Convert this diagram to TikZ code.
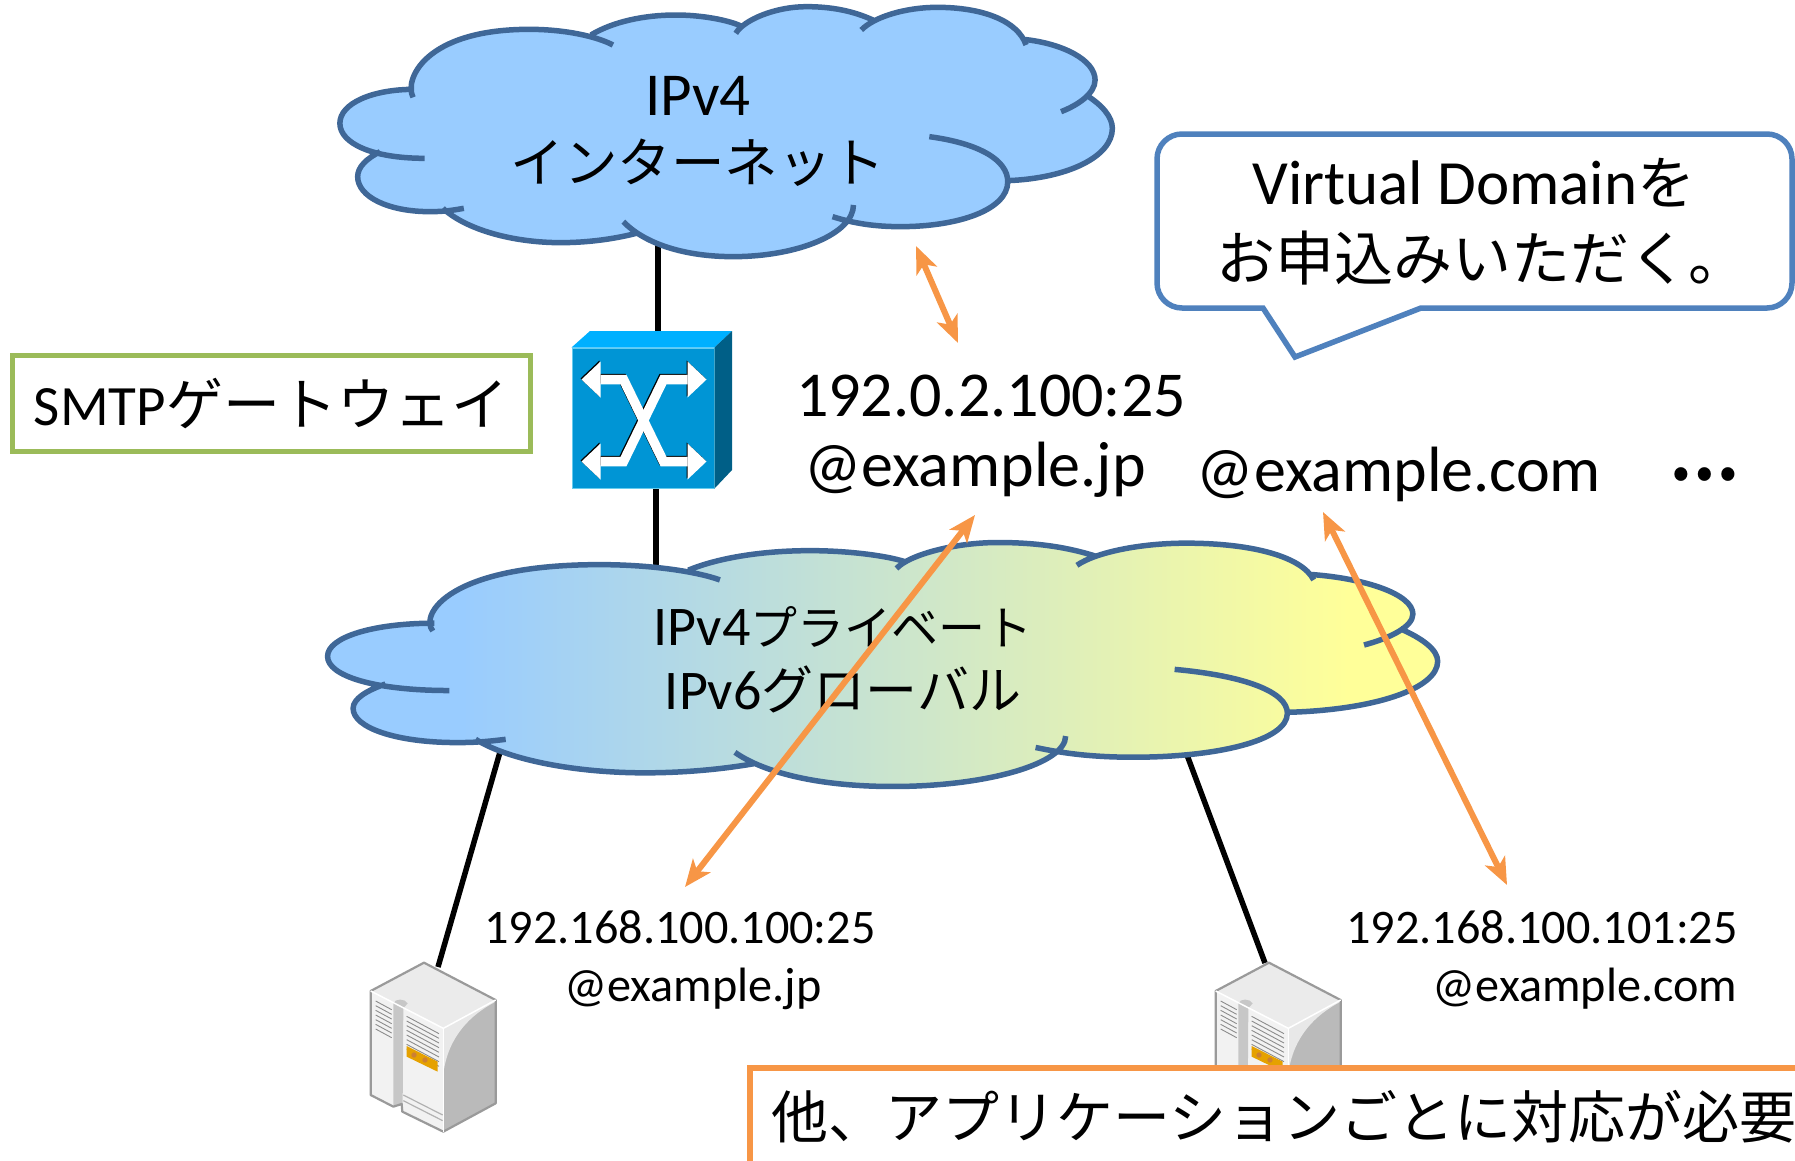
\documentclass[tikz,border=0pt]{standalone}
\usepackage{fontspec}
\setmainfont{Carlito}
\newfontfamily\cjk{Noto Sans CJK JP}
\usetikzlibrary{arrows.meta}
\usetikzlibrary{backgrounds}
\definecolor{nubeline}{HTML}{3F6797}
\definecolor{nubeblue}{HTML}{99CCFF}
\definecolor{nubeyellow}{HTML}{FFFF99}
\definecolor{tipcolor}{HTML}{F79646}
\definecolor{balloon}{HTML}{4F81BD}
\definecolor{gwgreen}{HTML}{9BBB59}
\definecolor{srvline}{HTML}{9A9A9A}
\definecolor{swfront}{HTML}{0095D5}
\definecolor{swtop}{HTML}{00B0FF}
\definecolor{swside}{HTML}{005F87}
\definecolor{swedge}{HTML}{66CCEE}
\pgfdeclarehorizontalshading{nubegrad}{100bp}{color(0bp)=(nubeblue); color(31bp)=(nubeblue); color(71bp)=(nubeyellow); color(100bp)=(nubeyellow)}
% Cloud outline, one curve per lobe
\newcommand{\nubepath}[1]{
  (178,292) .. controls (160,240) and (200,88) .. (400,88) .. controls (470,88) and (530,110) .. (560,135)
  #1 (518,105) .. controls (560,65) and (620,45) .. (680,45) .. controls (730,45) and (780,60) .. (805,78)
  #1 (795,100) .. controls (810,60) and (870,20) .. (930,20) .. controls (990,20) and (1030,40) .. (1060,62)
  #1 (1035,90) .. controls (1060,50) and (1120,22) .. (1180,22) .. controls (1270,22) and (1335,65) .. (1350,135)
  #1 (1345,118) .. controls (1420,130) and (1482,180) .. (1482,240) .. controls (1482,280) and (1450,315) .. (1417,335)
  #1 (1465,285) .. controls (1495,315) and (1515,350) .. (1515,385) .. controls (1515,470) and (1430,535) .. (1315,542)
  #1 (1165,410) .. controls (1260,430) and (1315,480) .. (1315,545) .. controls (1315,630) and (1220,680) .. (1110,680) .. controls (1060,680) and (1020,670) .. (980,650)
  #1 (1020,615) .. controls (1020,700) and (915,770) .. (790,770) .. controls (695,770) and (620,730) .. (580,665)
  #1 (605,700) .. controls (560,718) and (510,728) .. (460,728) .. controls (370,728) and (280,690) .. (235,625)
  #1 (275,625) .. controls (250,632) and (235,635) .. (210,635) .. controls (130,635) and (72,590) .. (72,530) .. controls (72,500) and (90,475) .. (115,455)
  #1 (200,475) .. controls (100,475) and (38,430) .. (38,370) .. controls (38,310) and (100,268) .. (180,268)
}
\tikzset{
  server/.pic={
    % faces
    \fill[black!8] (252,68) -- (467,180) -- (310,265) -- (92,153) -- cycle;
    \fill[black!5] (92,153) -- (310,265) -- (310,575) -- (187,515) -- (185,492) -- (160,500) -- (92,465) -- cycle;
    \fill[black!27] (467,180) -- (467,490) -- (310,575) -- (310,265) -- cycle;
    \fill[black!9] (467,180) -- (310,265) -- (310,400) .. controls (325,290) and (390,225) .. (467,185) -- cycle;
    \fill[black!22] (160,190) .. controls (165,175) and (195,175) .. (203,190) -- (190,205) -- (188,495) -- (160,500) -- cycle;
    % vents
    \foreach \v in {0,...,6}{ \draw[black!45,line width=.9pt] (107,183+14*\v) -- (155,209+14*\v); }
    \foreach \v in {0,...,7}{ \draw[black!45,line width=.9pt] (200,229+14*\v) -- (297,281+14*\v); }
    \fill[orange!60!yellow!90!black] (200,318) -- (293,365) -- (293,395) -- (200,350) -- cycle;
    \fill[brown!80!orange] (222,345) circle (8);
    \fill[brown!80!orange] (255,360) circle (8);
    \draw[black!30,line width=1.2pt] (190,465) -- (308,525);
    \draw[black!30,line width=1.2pt] (190,482) -- (308,542);
    \draw[srvline,line width=2.2pt,line join=round] (252,68) -- (467,180) -- (467,490) -- (310,575) -- (187,515) -- (185,492) -- (160,500) -- (92,465) -- (92,153) -- cycle;
    \draw[white,line width=1.5pt] (310,265) -- (467,180);
    \draw[white,line width=1.5pt] (310,265) -- (92,153);
    \draw[white,line width=1pt] (310,265) -- (310,575);
  }
}
\begin{document}
\begin{tikzpicture}[x=1pt,y=-1pt,>={Stealth[length=27pt,width=22pt,inset=7pt]}]
\tikzstyle{nube} = [draw=nubeline, line width=5.5pt, line cap=butt]
\tikzstyle{cable} = [black, line width=5.5pt]
\tikzstyle{mapping} = [tipcolor, line width=6pt, <->]
\tikzstyle{addr} = [anchor=base, inner sep=0pt, font=\fontsize{64}{76}\selectfont]
\tikzstyle{small} = [anchor=base, inner sep=0pt, font=\fontsize{48.2}{57}\selectfont]
\tikzstyle{white arrow} = [line width=9.5pt, miter limit=10]
\useasboundingbox (0,0) rectangle (1795,1160);
% Clouds
\begin{scope}[shift={(320,0)},xscale=.523,yscale=.3333]
  \fill[nubeblue] \nubepath{--};
  \draw[nube] \nubepath{};
\end{scope}
\begin{scope}[shift={(299,536)},xscale=.7516,yscale=.3253]
  \shade[shading=nubegrad] \nubepath{--};
  \draw[nube] \nubepath{};
\end{scope}
\node (inet) [align=center, inner sep=0pt, font=\fontsize{61}{67}\selectfont] at (698,131) {IPv4\\{\cjk\fontsize{53.5}{67}\selectfont インターネット}};
\node (priv) [align=center, inner sep=0pt, font=\fontsize{56}{64}\selectfont] at (843,660) {IPv4{\cjk\fontsize{47}{64}\selectfont プライベート}\\IPv6{\cjk\fontsize{52}{64}\selectfont グローバル}};
\coordinate (inetS) at (658,240);
\coordinate (privN) at (656,575);
\coordinate (privSW) at (500,752);
\coordinate (privSE) at (1187,755);
% Switch
\node (sw) [rectangle, fill=swfront, draw=swedge, line width=1pt, minimum width=142pt, minimum height=140pt, inner sep=0pt] at (643,418) {};
\fill[swtop] (sw.north west) -- (590,331) -- (732,331) -- (sw.north east) -- cycle;
\fill[swside] (sw.north east) -- (732,331) -- (732,470) -- (sw.south east) -- cycle;
\coordinate (swN) at (658,331);
\coordinate (swS) at (656,488);
\begin{scope}[shift={(sw.north west)}]
  \foreach \c/\d in {black/-1,white/0}{
    \begin{scope}[shift={(\d,\d)}]
      \draw[\c,white arrow] (29,32) -- (52,32) -- (92,114) -- (116,114);
      \draw[\c,white arrow] (29,114) -- (52,114) -- (92,32) -- (116,32);
      \fill[\c] (10,32) -- (29,14) -- (29,50) -- cycle;
      \fill[\c] (10,114) -- (29,96) -- (29,132) -- cycle;
      \fill[\c] (135,32) -- (116,14) -- (116,50) -- cycle;
      \fill[\c] (135,114) -- (116,96) -- (116,132) -- cycle;
    \end{scope}
  }
\end{scope}
% Servers
\pic[scale=.3333] at (340,940) {server};
\pic[scale=.3333] at (1185,940) {server};
\coordinate (srvA) at (438,967);
\coordinate (srvB) at (1265,963);
% Cables
\begin{pgfonlayer}{background}
\foreach \a/\b in {inetS/swN,swS/privN,privSW/srvA,privSE/srvB}{ \draw[cable] (\a) -- (\b); }
\end{pgfonlayer}
% Labels
\node (gw) [rectangle, draw=gwgreen, line width=5pt, minimum width=518pt, minimum height=96pt, inner sep=0pt, font=\fontsize{57}{68}\selectfont] at (271,403.5) {SMTP{\cjk ゲートウェイ}};
\node (ipGlobal) [addr] at (991,416) {192.0.2.100:25};
\node (domJp) [addr] at (975,486) {@example.jp};
\node (domCom) [addr] at (1399,491) {@example.com};
\node (more) [anchor=center, inner sep=0pt, font=\cjk\bfseries\fontsize{62}{74}\selectfont] at (1704,475) {⋯};
\node (ipA) [small] at (680,943) {192.168.100.100:25};
\node (mailA) [small] at (693,1001) {@example.jp};
\node (ipB) [small] at (1542,943) {192.168.100.101:25};
\node (mailB) [small] at (1585,1001) {@example.com};
% Balloon
\draw[balloon, line width=5.5pt, fill=white] (1263,308) -- (1295,357) -- (1421,308) [rounded corners=25pt] -- (1792,308) -- (1792,134) -- (1157,134) -- (1157,308) [sharp corners] -- cycle;
\node (vd) [align=center, inner sep=0pt, font=\fontsize{63}{76}\selectfont] at (1474,222) {Virtual Domain{\cjk\fontsize{58}{76}\selectfont を}\\\hspace*{16pt}{\cjk\fontsize{59}{76}\selectfont お申込みいただく。}};
% Mapping arrows
\coordinate (pubA) at (916,246);
\coordinate (pubB) at (958,343);
\coordinate (jpT) at (975,515);
\coordinate (jpB) at (685,887);
\coordinate (comT) at (1323,512);
\coordinate (comB) at (1507,885);
\foreach \a/\b in {pubA/pubB,jpT/jpB,comT/comB}{ \draw[mapping] (\a) -- (\b); }
% Note
\node (note) [anchor=north west, rectangle, draw=tipcolor, fill=white, line width=5.5pt, minimum height=98pt, text width=1100pt, inner xsep=22pt, inner ysep=0pt, font=\cjk\fontsize{57}{68}\selectfont] at (747,1065) {他、アプリケーションごとに対応が必要};
\end{tikzpicture}
\end{document}
